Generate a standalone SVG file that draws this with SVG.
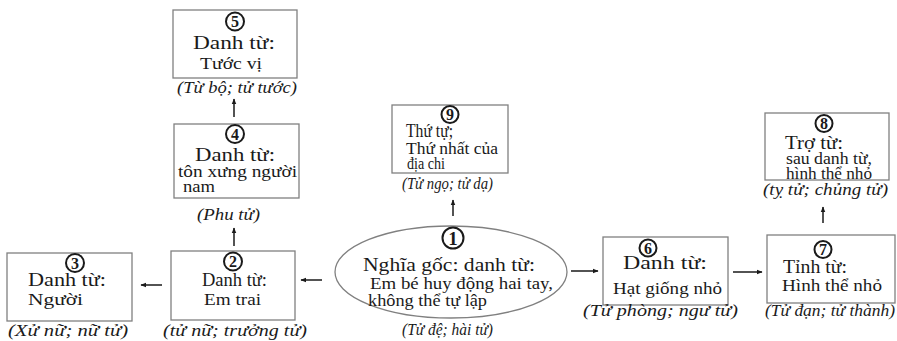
<svg xmlns="http://www.w3.org/2000/svg" width="897" height="341" viewBox="0 0 897 341">
<style>
.box{fill:#fff;stroke:#808080;stroke-width:1.3}
.t{font-family:"Liberation Serif","Times New Roman",serif;font-size:18.5px;fill:#1a1a1a}
.s{font-family:"Liberation Serif","Times New Roman",serif;font-size:16px;fill:#1a1a1a}
.l{font-family:"Liberation Serif","Times New Roman",serif;font-size:16px;font-style:italic;fill:#1a1a1a}
.c{fill:none;stroke:#1a1a1a;stroke-width:2}
.n{font-family:"Liberation Serif","Times New Roman",serif;font-size:16px;font-weight:bold;fill:#1a1a1a;text-anchor:middle}
.a{stroke:#1a1a1a;stroke-width:1.5;fill:none;marker-end:url(#ah)}
</style>
<defs>
<marker id="ah" viewBox="0 0 10 10" refX="9" refY="5" markerWidth="6" markerHeight="6" orient="auto" markerUnits="userSpaceOnUse">
<path d="M0,1 L10,5 L0,9 Z" fill="#1a1a1a"/>
</marker>
</defs>

<g id="node5">
<rect class="box" x="173" y="10" width="124" height="68"/>
<circle class="c" cx="235" cy="21.5" r="9"/><text class="n" x="235" y="27">5</text>
<text class="t" x="193" y="49" textLength="82" lengthAdjust="spacingAndGlyphs">Danh từ:</text>
<text class="s" x="200" y="69" textLength="62" lengthAdjust="spacingAndGlyphs">Tước vị</text>
<text class="l" x="177" y="93" textLength="120" lengthAdjust="spacingAndGlyphs">(Từ bộ; tử tước)</text>
</g>

<g id="node4">
<rect class="box" x="174" y="124" width="125" height="74"/>
<circle class="c" cx="235" cy="134" r="9"/><text class="n" x="235" y="139.5">4</text>
<text class="t" x="195" y="161" textLength="80" lengthAdjust="spacingAndGlyphs">Danh từ:</text>
<text class="s" x="178" y="177" textLength="119" lengthAdjust="spacingAndGlyphs">tôn xưng người</text>
<text class="s" x="183" y="192" textLength="32" lengthAdjust="spacingAndGlyphs">nam</text>
<text class="l" x="197" y="220" textLength="63" lengthAdjust="spacingAndGlyphs">(Phu tử)</text>
</g>

<g id="node3">
<rect class="box" x="7" y="253" width="125" height="68"/>
<circle class="c" cx="75" cy="263" r="9"/><text class="n" x="75" y="268.5">3</text>
<text class="t" x="28" y="286" textLength="78" lengthAdjust="spacingAndGlyphs">Danh từ:</text>
<text class="s" x="28" y="305" textLength="55" lengthAdjust="spacingAndGlyphs">Người</text>
<text class="l" x="8" y="336" textLength="120" lengthAdjust="spacingAndGlyphs">(Xử nữ; nữ tử)</text>
</g>

<g id="node2">
<rect class="box" x="171" y="251" width="124" height="69"/>
<circle class="c" cx="233" cy="261.5" r="9"/><text class="n" x="233" y="267">2</text>
<text class="t" x="202" y="286" textLength="65" lengthAdjust="spacingAndGlyphs">Danh từ:</text>
<text class="s" x="204" y="305" textLength="57" lengthAdjust="spacingAndGlyphs">Em trai</text>
<text class="l" x="163" y="336" textLength="144" lengthAdjust="spacingAndGlyphs">(tử nữ; trưởng tử)</text>
</g>

<g id="node1">
<ellipse cx="451" cy="272" rx="116" ry="46" fill="#fff" stroke="#808080" stroke-width="1.3"/>
<circle class="c" cx="453" cy="238" r="10.5" stroke-width="2.4"/><text class="n" x="453" y="244.5" style="font-size:19px">1</text>
<text class="t" x="363" y="271" textLength="172" lengthAdjust="spacingAndGlyphs">Nghĩa gốc: danh từ:</text>
<text class="s" x="370" y="289" textLength="183" lengthAdjust="spacingAndGlyphs">Em bé huy động hai tay,</text>
<text class="s" x="368" y="306" textLength="119" lengthAdjust="spacingAndGlyphs">không thể tự lập</text>
<text class="l" x="402" y="335" textLength="91" lengthAdjust="spacingAndGlyphs">(Tử đệ; hài tử)</text>
</g>

<g id="node9">
<rect class="box" x="392" y="105" width="116" height="68"/>
<circle class="c" cx="450" cy="114.5" r="8.5"/><text class="n" x="450" y="120">9</text>
<text class="t" x="406" y="137" textLength="47" lengthAdjust="spacingAndGlyphs">Thứ tự;</text>
<text class="s" x="406" y="154" textLength="92" lengthAdjust="spacingAndGlyphs">Thứ nhất của</text>
<text class="s" x="407" y="169" textLength="38" lengthAdjust="spacingAndGlyphs">địa chi</text>
<text class="l" x="402" y="189" textLength="91" lengthAdjust="spacingAndGlyphs">(Tử ngọ; tử dạ)</text>
</g>

<g id="node6">
<rect class="box" x="603" y="237" width="125" height="68"/>
<circle class="c" cx="648" cy="248" r="8.5"/><text class="n" x="648" y="253.5">6</text>
<text class="t" x="623" y="269" textLength="84" lengthAdjust="spacingAndGlyphs">Danh từ:</text>
<text class="s" x="613" y="294" textLength="109" lengthAdjust="spacingAndGlyphs">Hạt giống nhỏ</text>
<text class="l" x="583" y="316" textLength="155" lengthAdjust="spacingAndGlyphs">(Tử phòng; ngư tử)</text>
</g>

<g id="node7">
<rect class="box" x="767" y="235" width="128" height="68"/>
<circle class="c" cx="823" cy="249.5" r="8.5"/><text class="n" x="823" y="255">7</text>
<text class="t" x="783" y="273" textLength="64" lengthAdjust="spacingAndGlyphs">Tỉnh từ:</text>
<text class="s" x="782" y="291" textLength="100" lengthAdjust="spacingAndGlyphs">Hình thể nhỏ</text>
<text class="l" x="765" y="316" textLength="130" lengthAdjust="spacingAndGlyphs">(Tử đạn; tử thành)</text>
</g>

<g id="node8">
<rect class="box" x="765" y="113" width="124" height="67"/>
<circle class="c" cx="824" cy="123.5" r="8.5"/><text class="n" x="824" y="129">8</text>
<text class="t" x="785" y="149" textLength="58" lengthAdjust="spacingAndGlyphs">Trợ từ:</text>
<text class="s" x="786" y="164" textLength="86" lengthAdjust="spacingAndGlyphs">sau danh từ,</text>
<text class="s" x="786" y="178.5" textLength="86" lengthAdjust="spacingAndGlyphs">hình thể nhỏ</text>
<text class="l" x="763" y="195" textLength="125" lengthAdjust="spacingAndGlyphs">(tỵ tử; chủng tử)</text>
</g>

<g id="connectors">
<line class="a" x1="234" y1="117" x2="234" y2="99"/>
<line class="a" x1="234" y1="246" x2="234" y2="228"/>
<line class="a" x1="162" y1="285" x2="141" y2="285"/>
<line class="a" x1="322" y1="280" x2="301" y2="280"/>
<line class="a" x1="453" y1="216" x2="453" y2="200"/>
<line class="a" x1="571" y1="271" x2="598" y2="271"/>
<line class="a" x1="733" y1="272" x2="762" y2="272"/>
<line class="a" x1="823" y1="223" x2="823" y2="207"/>
</g>
</svg>
